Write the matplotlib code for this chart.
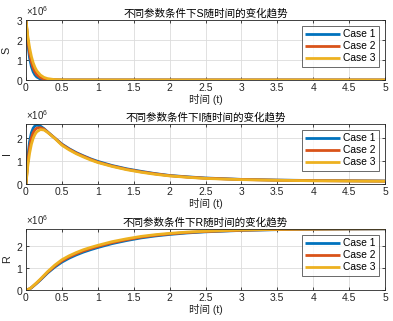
import matplotlib
matplotlib.use("Agg")
import matplotlib.pyplot as plt
from matplotlib.ticker import ScalarFormatter, FixedLocator, FixedFormatter

plt.rcParams['font.family'] = ['Liberation Sans', 'Noto Sans CJK SC', 'DejaVu Sans']
plt.rcParams['mathtext.fontset'] = 'custom'
plt.rcParams['mathtext.rm'] = 'Liberation Sans'
plt.rcParams['mathtext.it'] = 'Liberation Sans:italic'

# time samples
t = [0, 0.025, 0.05, 0.075, 0.1, 0.125, 0.15, 0.2, 0.25, 0.3, 0.4, 0.5, 0.6, 0.7,
     0.8, 0.9, 1.0, 1.2, 1.4, 1.6, 1.8, 2.0, 2.25, 2.5, 3.0, 3.5, 4.0, 4.5, 5.0]

# values in millions
S1 = [3.0, 1.82, 1.10, 0.67, 0.41, 0.25, 0.15, 0.05, 0.02, 0.01, 0, 0, 0, 0,
      0, 0, 0, 0, 0, 0, 0, 0, 0, 0, 0, 0, 0, 0, 0]
S2 = [3.0, 2.01, 1.35, 0.90, 0.61, 0.41, 0.27, 0.12, 0.05, 0.02, 0.01, 0, 0, 0,
      0, 0, 0, 0, 0, 0, 0, 0, 0, 0, 0, 0, 0, 0, 0]
S3 = [3.0, 2.19, 1.61, 1.18, 0.86, 0.63, 0.46, 0.25, 0.13, 0.07, 0.02, 0.01, 0, 0,
      0, 0, 0, 0, 0, 0, 0, 0, 0, 0, 0, 0, 0, 0, 0]

I1 = [0, 1.16, 1.84, 2.22, 2.42, 2.52, 2.55, 2.51, 2.40, 2.26, 1.99, 1.73, 1.53, 1.36,
      1.22, 1.09, 0.98, 0.80, 0.66, 0.55, 0.45, 0.37, 0.31, 0.26, 0.20, 0.17, 0.15, 0.14, 0.13]
I2 = [0, 0.97, 1.60, 2.00, 2.22, 2.35, 2.42, 2.44, 2.38, 2.25, 1.99, 1.71, 1.51, 1.34,
      1.20, 1.07, 0.95, 0.78, 0.64, 0.53, 0.44, 0.36, 0.30, 0.25, 0.195, 0.165, 0.145, 0.135, 0.125]
I3 = [0, 0.78, 1.33, 1.72, 1.98, 2.15, 2.26, 2.36, 2.34, 2.24, 1.98, 1.68, 1.48, 1.31,
      1.17, 1.04, 0.93, 0.76, 0.62, 0.51, 0.42, 0.35, 0.29, 0.24, 0.19, 0.16, 0.14, 0.13, 0.12]

R1 = [0, 0.015, 0.05, 0.10, 0.17, 0.24, 0.31, 0.46, 0.62, 0.78, 1.05, 1.28, 1.46, 1.61,
      1.74, 1.85, 1.95, 2.13, 2.27, 2.39, 2.48, 2.55, 2.62, 2.67, 2.735, 2.77, 2.79, 2.80, 2.805]
R2 = [0, 0.018, 0.055, 0.108, 0.18, 0.252, 0.325, 0.48, 0.645, 0.81, 1.095, 1.335, 1.515, 1.665,
      1.795, 1.90, 2.00, 2.175, 2.31, 2.425, 2.51, 2.575, 2.64, 2.685, 2.745, 2.778, 2.795, 2.805, 2.81]
R3 = [0, 0.02, 0.06, 0.115, 0.19, 0.265, 0.34, 0.50, 0.67, 0.84, 1.14, 1.39, 1.57, 1.72,
      1.85, 1.955, 2.05, 2.22, 2.35, 2.46, 2.54, 2.60, 2.66, 2.70, 2.755, 2.785, 2.80, 2.81, 2.815]

case_labels = ['Case 1', 'Case 2', 'Case 3']
colors = ['#0072BD', '#D95319', '#EDB120']
var_names = ['S', 'I', 'R']
titles = ['不同参数条件下S随时间的变化趋势', '不同参数条件下I随时间的变化趋势', '不同参数条件下R随时间的变化趋势']
xticks = [0, 0.5, 1, 1.5, 2, 2.5, 3, 3.5, 4, 4.5, 5]
xticklabels = ['0', '0.5', '1', '1.5', '2', '2.5', '3', '3.5', '4', '4.5', '5']
yticks_list = [[0, 1, 2, 3], [0, 1, 2], [0, 1, 2]]
ytop = [3.0, 2.6, 2.8]
series = [[S1, S2, S3], [I1, I2, I3], [R1, R2, R3]]

W, H = 393, 321
fig = plt.figure(figsize=(W / 100, H / 100), dpi=100)
fig.patch.set_facecolor('white')

boxes = [(26, 20, 80), (26, 124, 184), (26, 229, 290)]
axcol = '#262626'
for k, (left, top, bottom) in enumerate(boxes):
    ax = fig.add_axes([left / W, 1 - bottom / H, 359 / W, (bottom - top) / H])
    for j in range(3):
        ax.plot(t, [v * 1e6 for v in series[k][j]], color=colors[j], lw=2.0,
                label=case_labels[j], solid_capstyle='butt')
    ax.set_xlim(0, 5)
    ax.set_ylim(0, ytop[k] * 1e6)
    ax.xaxis.set_major_locator(FixedLocator(xticks))
    ax.xaxis.set_major_formatter(FixedFormatter(xticklabels))
    ax.set_yticks([v * 1e6 for v in yticks_list[k]])
    fmt = ScalarFormatter(useMathText=True)
    fmt.set_powerlimits((0, 0))
    ax.yaxis.set_major_formatter(fmt)
    ax.yaxis.get_offset_text().set_fontsize(7)
    ax.yaxis.get_offset_text().set_color(axcol)
    ax.grid(True, color='#DCDCDC', lw=0.6)
    ax.set_axisbelow(True)
    ax.tick_params(direction='in', length=2.5, width=0.6, labelsize=7.5, colors=axcol,
                   pad=2, top=True, right=True)
    for sp in ax.spines.values():
        sp.set_color(axcol)
        sp.set_linewidth(0.6)
    ax.set_title(titles[k], fontsize=7.6, color='black', pad=2.5)
    ax.set_xlabel('时间 (t)', fontsize=7.6, color=axcol, labelpad=1)
    ax.set_ylabel(var_names[k], fontsize=7.8, color=axcol, labelpad=3)
    leg = ax.legend(loc='upper right', fontsize=7.4, frameon=True, fancybox=False,
                    edgecolor=axcol, handlelength=3.4, handletextpad=0.3,
                    borderpad=0.35, labelspacing=0.2, borderaxespad=0.55)
    leg.get_frame().set_linewidth(0.6)
    for line in leg.get_lines():
        line.set_linewidth(2.0)

fig.savefig('out.png', dpi=100)
